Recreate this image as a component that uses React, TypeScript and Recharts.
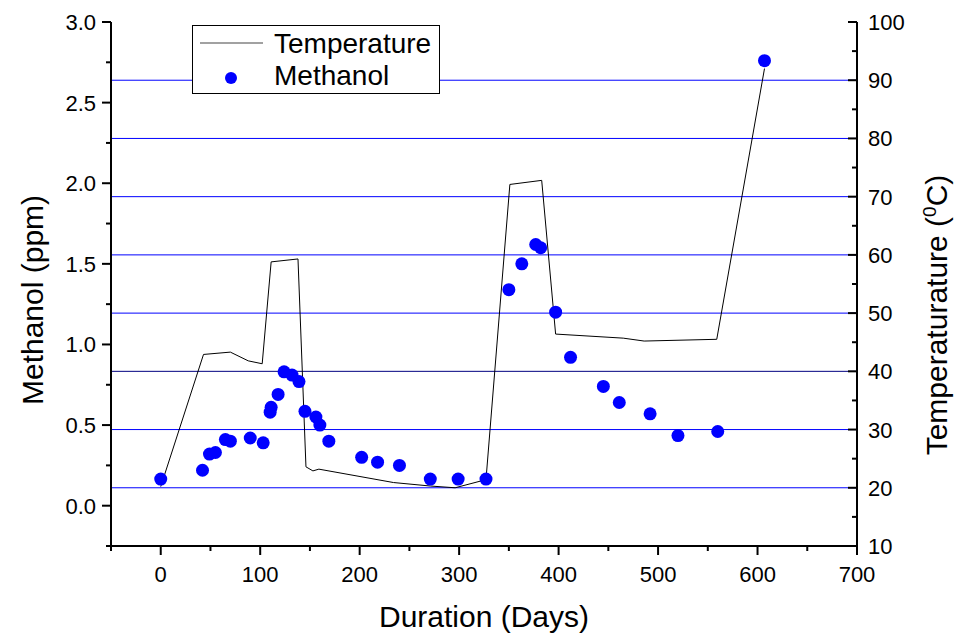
import React from 'react';
import { ComposedChart, Line, Scatter, XAxis, YAxis, ReferenceLine, Legend, Label } from 'recharts';

// Temperature series (right axis)
const tempDays = [0, 43, 70, 88, 102, 111, 138, 146, 153, 159, 234, 271, 296, 327, 351, 383, 397, 465, 486, 559, 607];
const tempValues = [20.2, 42.9, 43.3, 41.8, 41.3, 58.8, 59.3, 23.6, 22.9, 23.2, 20.9, 20.3, 20.0, 21.4, 72.1, 72.8, 46.4, 45.7, 45.2, 45.5, 92.0];

// Methanol series (left axis)
const methDays = [0, 42, 49, 55, 65, 70, 90, 103, 110, 111, 118, 124, 132, 139, 145, 156, 160, 169, 202, 218, 240, 271, 299, 327, 350, 363, 377, 382, 397, 412, 445, 461, 492, 520, 560, 607];
const methValues = [0.165, 0.22, 0.32, 0.33, 0.41, 0.40, 0.42, 0.39, 0.58, 0.61, 0.69, 0.83, 0.81, 0.77, 0.585, 0.55, 0.50, 0.40, 0.30, 0.27, 0.25, 0.165, 0.165, 0.165, 1.34, 1.50, 1.62, 1.60, 1.20, 0.92, 0.74, 0.64, 0.57, 0.435, 0.46, 2.76];

// Ticks
const xTicks = [-50, 0, 50, 100, 150, 200, 250, 300, 350, 400, 450, 500, 550, 600, 650, 700];
const leftTicks = [-0.25, 0, 0.25, 0.5, 0.75, 1.0, 1.25, 1.5, 1.75, 2.0, 2.25, 2.5, 2.75, 3.0];
const rightTicks = [10, 15, 20, 25, 30, 35, 40, 45, 50, 55, 60, 65, 70, 75, 80, 85, 90, 95, 100];
const gridTemps = [20, 30, 40, 50, 60, 70, 80, 90];

const tempData = tempDays.map((d, i) => ({ day: d, temp: tempValues[i] }));
const methData = methDays.map((d, i) => ({ day: d, meth: methValues[i] }));

const FONT = '"Liberation Sans", Arial, Helvetica, sans-serif';

const XTick = (props: any) => {
  const { x, y, payload } = props;
  const v = payload.value;
  const major = Math.abs(v % 100) < 1e-6;
  return (
    <g>
      <line x1={x} x2={x} y1={y} y2={y + (major ? 9 : 5)} stroke="#000" strokeWidth={2} />
      {major && (
        <text x={x} y={y + 36} textAnchor="middle" fontSize={22} fill="#000" fontFamily={FONT}>
          {v}
        </text>
      )}
    </g>
  );
};

const LeftTick = (props: any) => {
  const { x, y, payload } = props;
  const v = payload.value;
  const major = Math.abs(v * 2 - Math.round(v * 2)) < 1e-6;
  return (
    <g>
      <line x1={x} x2={x - (major ? 9 : 5)} y1={y} y2={y} stroke="#000" strokeWidth={2} />
      {major && (
        <text x={x - 15} y={y + 8} textAnchor="end" fontSize={22} fill="#000" fontFamily={FONT}>
          {v.toFixed(1)}
        </text>
      )}
    </g>
  );
};

const RightTick = (props: any) => {
  const { x, y, payload } = props;
  const v = payload.value;
  const major = Math.abs(v % 10) < 1e-6;
  return (
    <g>
      <line x1={x} x2={x - (major ? 9 : 5)} y1={y} y2={y} stroke="#000" strokeWidth={2} />
      {major && (
        <text x={x + 11} y={y + 8} textAnchor="start" fontSize={22} fill="#000" fontFamily={FONT}>
          {v}
        </text>
      )}
    </g>
  );
};

const XTitle = (props: any) => {
  const vb = props.viewBox || { x: 111, y: 546, width: 746, height: 88 };
  return (
    <text x={vb.x + vb.width / 2} y={vb.y + 81} textAnchor="middle" fontSize={30} fill="#000" fontFamily={FONT}>
      Duration (Days)
    </text>
  );
};

const LeftTitle = (props: any) => {
  const vb = props.viewBox || { x: 0, y: 22, width: 111, height: 524 };
  const cx = vb.x + 43;
  const cy = vb.y + vb.height / 2 + 16;
  return (
    <text x={cx} y={cy} transform={`rotate(-90 ${cx} ${cy})`} textAnchor="middle" fontSize={30} fill="#000" fontFamily={FONT}>
      Methanol (ppm)
    </text>
  );
};

const RightTitle = (props: any) => {
  const vb = props.viewBox || { x: 857, y: 22, width: 102, height: 524 };
  const cx = vb.x + 90;
  const cy = vb.y + vb.height / 2 + 31;
  return (
    <text x={cx} y={cy} transform={`rotate(-90 ${cx} ${cy})`} textAnchor="middle" fontSize={30} fill="#000" fontFamily={FONT}>
      <tspan>Temperaturature (</tspan>
      <tspan fontSize={19} dy={-11}>0</tspan>
      <tspan dy={11}>C)</tspan>
    </text>
  );
};

const renderLegend = () => (
  <svg width={248} height={69} style={{ display: 'block', fontFamily: FONT }}>
    <rect x={0.5} y={0.5} width={247} height={68} fill="#fff" stroke="#000" strokeWidth={1} />
    <line x1={8} x2={71} y1={18} y2={18} stroke="#444" strokeWidth={1.2} />
    <text x={82} y={28} fontSize={28} fill="#000">Temperature</text>
    <circle cx={39} cy={53} r={6} fill="#0000ff" />
    <text x={82} y={60} fontSize={28} fill="#000">Methanol</text>
  </svg>
);

const Dot = (props: any) => {
  const { cx, cy } = props;
  return <circle cx={cx} cy={cy} r={6.5} fill="#0000ff" />;
};

export default function App() {
  return (
    <div style={{ position: 'absolute', left: 0, top: 0, width: 959, height: 634, background: '#fff', fontFamily: FONT }}>
      <ComposedChart width={959} height={634} margin={{ top: 22, right: 0, bottom: 0, left: 0 }}>
        <XAxis
          xAxisId="x"
          dataKey="day"
          type="number"
          domain={[-50, 700]}
          ticks={xTicks}
          interval={0}
          height={88}
          tickSize={0}
          tickMargin={0}
          tickLine={false}
          axisLine={{ stroke: '#000', strokeWidth: 2 }}
          tick={<XTick />}
          allowDataOverflow
        >
          <Label content={<XTitle />} />
        </XAxis>
        <YAxis
          yAxisId="left"
          orientation="left"
          type="number"
          domain={[-0.25, 3]}
          ticks={leftTicks}
          interval={0}
          width={111}
          tickSize={0}
          tickMargin={0}
          tickLine={false}
          axisLine={{ stroke: '#000', strokeWidth: 2 }}
          tick={<LeftTick />}
          allowDataOverflow
        >
          <Label content={<LeftTitle />} />
        </YAxis>
        <YAxis
          yAxisId="right"
          orientation="right"
          type="number"
          domain={[10, 100]}
          ticks={rightTicks}
          interval={0}
          width={102}
          tickSize={0}
          tickMargin={0}
          tickLine={false}
          axisLine={{ stroke: '#000', strokeWidth: 2 }}
          tick={<RightTick />}
          allowDataOverflow
        >
          <Label content={<RightTitle />} />
        </YAxis>
        {gridTemps.map((t) => (
          <ReferenceLine
            key={t}
            xAxisId="x"
            yAxisId="right"
            y={t}
            stroke={t === 40 ? '#000080' : '#0000ff'}
            strokeWidth={1}
            ifOverflow="extendDomain"
          />
        ))}
        <Line
          xAxisId="x"
          yAxisId="right"
          data={tempData}
          dataKey="temp"
          type="linear"
          stroke="#000"
          strokeWidth={1}
          dot={false}
          activeDot={false}
          isAnimationActive={false}
          legendType="line"
          name="Temperature"
        />
        <Scatter
          xAxisId="x"
          yAxisId="left"
          data={methData}
          dataKey="meth"
          fill="#0000ff"
          shape={<Dot />}
          isAnimationActive={false}
          name="Methanol"
        />
        <Legend
          layout="horizontal"
          verticalAlign="middle"
          align="center"
          content={renderLegend}
          wrapperStyle={{ position: 'absolute', left: 192, top: 25, width: 248, height: 69 }}
        />
      </ComposedChart>
    </div>
  );
}
